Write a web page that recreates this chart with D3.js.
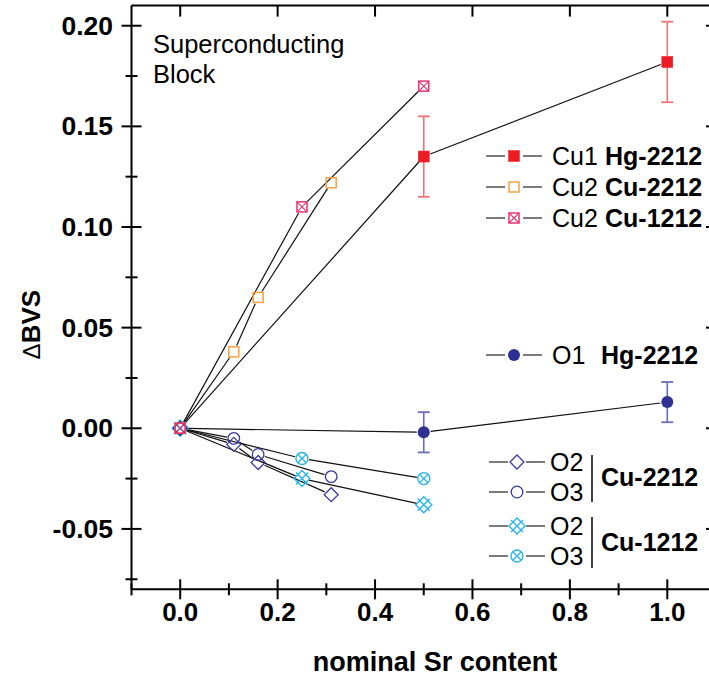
<!DOCTYPE html>
<html><head><meta charset="utf-8">
<script src="https://cdn.jsdelivr.net/npm/d3@7"></script>
<style>
body{margin:0;background:#fff;}
svg{display:block;font-family:"Liberation Sans",Arial,Helvetica,sans-serif;}
</style></head>
<body>
<svg id="chart" width="709" height="679"></svg>
<script>
// ---------- data ----------
const xTicks = [0.0, 0.2, 0.4, 0.6, 0.8, 1.0];
const xTickLabels = ["0.0", "0.2", "0.4", "0.6", "0.8", "1.0"];
const xMinor = [-0.1, 0.1, 0.3, 0.5, 0.7, 0.9];
const yTicks = [-0.05, 0.00, 0.05, 0.10, 0.15, 0.20];
const yTickLabels = ["-0.05", "0.00", "0.05", "0.10", "0.15", "0.20"];
const yMinor = [-0.075, -0.025, 0.025, 0.075, 0.125, 0.175];

const cu1HgX = [0, 0.5, 1.0];
const cu1HgY = [0, 0.135, 0.182];
const cu1HgErr = [0, 0.02, 0.02];

const cu2Cu2212X = [0, 0.11, 0.16, 0.31];
const cu2Cu2212Y = [0, 0.038, 0.065, 0.122];

const cu2Cu1212X = [0, 0.25, 0.5];
const cu2Cu1212Y = [0, 0.11, 0.17];

const o1HgX = [0, 0.5, 1.0];
const o1HgY = [0, -0.002, 0.013];
const o1HgErr = [0, 0.01, 0.01];

const o2Cu2212X = [0, 0.11, 0.16, 0.31];
const o2Cu2212Y = [0, -0.008, -0.017, -0.033];
const o3Cu2212Y = [0, -0.005, -0.013, -0.024];

const o2Cu1212X = [0, 0.25, 0.5];
const o2Cu1212Y = [0, -0.025, -0.038];
const o3Cu1212Y = [0, -0.015, -0.025];

// ---------- styles ----------
const RED = "#ed1c24", ORANGE = "#f6a244", PINK = "#e8336d", NAVY = "#2e3192",
      NAVY2 = "#3a3a9c", CYAN = "#27b5ee";

const series = [
  {x: o2Cu1212X, y: o2Cu1212Y, m: "diamX", c: CYAN},
  {x: o2Cu1212X, y: o3Cu1212Y, m: "circX", c: CYAN},
  {x: o2Cu2212X, y: o2Cu2212Y, m: "diamond", c: NAVY2},
  {x: o2Cu2212X, y: o3Cu2212Y, m: "circOpen", c: NAVY2},
  {x: o1HgX, y: o1HgY, e: o1HgErr, m: "circFill", c: NAVY, ec: "#6d6db8", skip0: true},
  {x: cu1HgX, y: cu1HgY, e: cu1HgErr, m: "sqFill", c: RED, ec: "#f07676", skip0: true},
  {x: cu2Cu2212X, y: cu2Cu2212Y, m: "sqOpen", c: ORANGE},
  {x: cu2Cu1212X, y: cu2Cu1212Y, m: "sqX", c: PINK},
];

const svg = d3.select("#chart");
const x = d3.scaleLinear().domain([-0.1, 1.1]).range([131.5, 716]);
const y = d3.scaleLinear().domain([-0.08, 0.21]).range([589.3, 5.6]);

// ---------- marker drawer ----------
function marker(g, type, cx, cy, col) {
  const sw = 1.3;
  if (type === "sqFill") {
    g.append("rect").attr("x", cx-5.5).attr("y", cy-5.5).attr("width", 11).attr("height", 11)
      .attr("fill", col).attr("stroke", col).attr("stroke-width", 0.5);
  } else if (type === "sqOpen") {
    g.append("rect").attr("x", cx-5).attr("y", cy-5).attr("width", 10).attr("height", 10)
      .attr("fill", "none").attr("stroke", col).attr("stroke-width", 1.5);
  } else if (type === "sqX") {
    g.append("rect").attr("x", cx-5).attr("y", cy-5).attr("width", 10).attr("height", 10)
      .attr("fill", "none").attr("stroke", col).attr("stroke-width", 1.5);
    g.append("path").attr("d", `M${cx-5},${cy-5}L${cx+5},${cy+5}M${cx+5},${cy-5}L${cx-5},${cy+5}`)
      .attr("stroke", col).attr("stroke-width", 1.1).attr("fill", "none");
  } else if (type === "circFill") {
    g.append("circle").attr("cx", cx).attr("cy", cy).attr("r", 6).attr("fill", col);
  } else if (type === "circOpen") {
    g.append("circle").attr("cx", cx).attr("cy", cy).attr("r", 5.8)
      .attr("fill", "none").attr("stroke", col).attr("stroke-width", sw);
  } else if (type === "diamond") {
    const r = 7;
    g.append("path").attr("d", `M${cx},${cy-r}L${cx+r},${cy}L${cx},${cy+r}L${cx-r},${cy}Z`)
      .attr("fill", "none").attr("stroke", col).attr("stroke-width", sw);
  } else if (type === "diamX") {
    const r = 8, s = 6;
    g.append("path").attr("d", `M${cx},${cy-r}L${cx+r},${cy}L${cx},${cy+r}L${cx-r},${cy}Z`)
      .attr("fill", "none").attr("stroke", col).attr("stroke-width", 1.4);
    g.append("path").attr("d", `M${cx-s},${cy-s}L${cx+s},${cy+s}M${cx+s},${cy-s}L${cx-s},${cy+s}`)
      .attr("stroke", col).attr("stroke-width", 1.4).attr("fill", "none");
  } else if (type === "circX") {
    g.append("circle").attr("cx", cx).attr("cy", cy).attr("r", 6)
      .attr("fill", "none").attr("stroke", col).attr("stroke-width", 1.4);
    const s = 4.2;
    g.append("path").attr("d", `M${cx-s},${cy-s}L${cx+s},${cy+s}M${cx+s},${cy-s}L${cx-s},${cy+s}`)
      .attr("stroke", col).attr("stroke-width", 1.3).attr("fill", "none");
  }
}

// ---------- axes ----------
const ax = svg.append("g").attr("stroke", "#000").attr("stroke-width", 2);
const L = x.range()[0], R = x.range()[1], B = y.range()[0], T = y.range()[1];
ax.append("line").attr("x1", L).attr("x2", L).attr("y1", T).attr("y2", B);
ax.append("line").attr("x1", L).attr("x2", R).attr("y1", B).attr("y2", B);
ax.append("line").attr("x1", L).attr("x2", R).attr("y1", T).attr("y2", T);
ax.append("line").attr("x1", R).attr("x2", R).attr("y1", T).attr("y2", B);

yTicks.forEach(v => {
  ax.append("line").attr("x1", L-10).attr("x2", L+10).attr("y1", y(v)).attr("y2", y(v));
  ax.append("line").attr("x1", R-10).attr("x2", R).attr("y1", y(v)).attr("y2", y(v));
});
yMinor.forEach(v => ax.append("line").attr("x1", L-6).attr("x2", L+6).attr("y1", y(v)).attr("y2", y(v)));
xTicks.forEach(v => {
  ax.append("line").attr("x1", x(v)).attr("x2", x(v)).attr("y1", B-10).attr("y2", B+10);
  ax.append("line").attr("x1", x(v)).attr("x2", x(v)).attr("y1", T).attr("y2", T+11);
});
xMinor.forEach(v => ax.append("line").attr("x1", x(v)).attr("x2", x(v)).attr("y1", B-6).attr("y2", B+6));

const tl = svg.append("g").attr("font-size", 25).attr("font-weight", "bold").attr("fill", "#000");
yTicks.forEach((v, i) => tl.append("text").attr("transform", `translate(113,${y(v)}) scale(1.06,1)`)
  .attr("dy", "0.36em").attr("text-anchor", "end").text(yTickLabels[i]));
xTicks.forEach((v, i) => tl.append("text").attr("transform", `translate(${x(v)},621) scale(1.04,1)`)
  .attr("text-anchor", "middle").text(xTickLabels[i]));

tl.append("text").attr("x", 435).attr("y", 671).attr("font-size", 27)
  .attr("text-anchor", "middle").text("nominal Sr content");
{
  const yt = tl.append("text").attr("transform", `translate(40,${y(0.05) - 3}) rotate(-90)`).attr("font-size", 26)
    .attr("text-anchor", "middle");
  yt.append("tspan").attr("font-weight", "normal").attr("font-size", 24).text("\u0394");
  yt.append("tspan").text("BVS");
}

// ---------- series ----------
const plot = svg.append("g");
const gap = 7;
series.forEach(s => {
  const pts = s.x.map((v, i) => [x(v), y(s.y[i])]);
  for (let i = 0; i < pts.length - 1; i++) {
    const [x1, y1] = pts[i], [x2, y2] = pts[i+1];
    const d = Math.hypot(x2-x1, y2-y1), ux = (x2-x1)/d, uy = (y2-y1)/d;
    plot.append("line").attr("x1", x1+ux*gap).attr("y1", y1+uy*gap)
      .attr("x2", x2-ux*gap).attr("y2", y2-uy*gap)
      .attr("stroke", "#111").attr("stroke-width", 1.2);
  }
});
series.forEach(s => {
  if (s.e) {
    s.x.forEach((v, i) => {
      if (!s.e[i]) return;
      const cx = x(v), y1 = y(s.y[i] + s.e[i]), y2 = y(s.y[i] - s.e[i]);
      plot.append("line").attr("x1", cx).attr("x2", cx).attr("y1", y1).attr("y2", y2)
        .attr("stroke", s.ec).attr("stroke-width", 1.6);
      [y1, y2].forEach(yy => plot.append("line").attr("x1", cx-6).attr("x2", cx+6)
        .attr("y1", yy).attr("y2", yy).attr("stroke", s.ec).attr("stroke-width", 1.8));
    });
  }
});
series.forEach(s => {
  s.x.forEach((v, i) => {
    if (s.skip0 && i === 0) return;
    marker(plot, s.m, x(v), y(s.y[i]), s.c);
  });
});

// ---------- text annotation ----------
const ann = svg.append("g").attr("font-size", 25.5).attr("fill", "#000");
ann.append("text").attr("x", 153).attr("y", 53).text("Superconducting");
ann.append("text").attr("x", 153).attr("y", 83).text("Block");

// ---------- legends ----------
const lg = svg.append("g").attr("font-size", 25).attr("fill", "#000");
function legLine(cx, cy, half, m, col) {
  lg.append("line").attr("x1", cx-half).attr("x2", cx-9).attr("y1", cy).attr("y2", cy).attr("stroke", "#333").attr("stroke-width", 1.3);
  lg.append("line").attr("x1", cx+9).attr("x2", cx+half).attr("y1", cy).attr("y2", cy).attr("stroke", "#333").attr("stroke-width", 1.3);
  marker(lg, m, cx, cy, col);
}
const upperLegend = [
  {m: "sqFill", c: RED, a: "Cu1", b: "Hg-2212", cy: 156},
  {m: "sqOpen", c: ORANGE, a: "Cu2", b: "Cu-2212", cy: 187},
  {m: "sqX", c: PINK, a: "Cu2", b: "Cu-1212", cy: 218},
];
upperLegend.forEach(d => {
  legLine(514, d.cy, 28, d.m, d.c);
  const t = lg.append("text").attr("x", 552).attr("y", d.cy + 9);
  t.append("tspan").text(d.a);
  t.append("tspan").attr("x", 605).attr("font-weight", "bold").text(d.b);
});
legLine(514, 355, 28, "circFill", NAVY);
{
  const t = lg.append("text").attr("x", 552).attr("y", 355 + 9);
  t.append("tspan").text("O1");
  t.append("tspan").attr("x", 601).attr("font-weight", "bold").text("Hg-2212");
}
const lowerLegend = [
  {m: "diamond", c: NAVY2, a: "O2", cy: 462},
  {m: "circOpen", c: NAVY2, a: "O3", cy: 492},
  {m: "diamX", c: CYAN, a: "O2", cy: 526},
  {m: "circX", c: CYAN, a: "O3", cy: 556},
];
lowerLegend.forEach(d => {
  legLine(517, d.cy, 28, d.m, d.c);
  lg.append("text").attr("x", 550).attr("y", d.cy + 9).text(d.a);
});
lg.append("line").attr("x1", 592).attr("x2", 592).attr("y1", 455).attr("y2", 502).attr("stroke", "#000").attr("stroke-width", 1.5);
lg.append("line").attr("x1", 592).attr("x2", 592).attr("y1", 517).attr("y2", 568).attr("stroke", "#000").attr("stroke-width", 1.5);
lg.append("text").attr("x", 601).attr("y", 477 + 9).attr("font-weight", "bold").text("Cu-2212");
lg.append("text").attr("x", 601).attr("y", 542 + 9).attr("font-weight", "bold").text("Cu-1212");
</script>
</body></html>
